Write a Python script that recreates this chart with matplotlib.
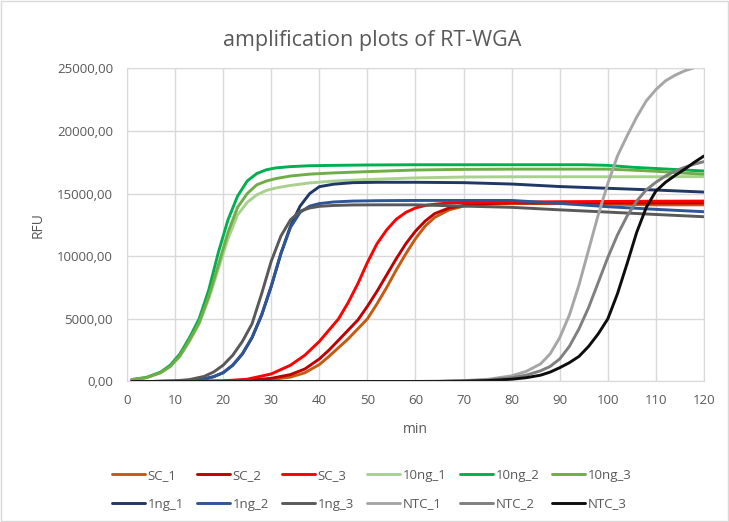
import matplotlib
matplotlib.use("Agg")
import matplotlib.pyplot as plt
from matplotlib.patches import Rectangle
from matplotlib.ticker import FuncFormatter

plt.rcParams['font.family'] = ['Open Sans', 'DejaVu Sans']

# time points (min), denser where the curves rise
t_sc = [1, 10, 20, 25, 30, 34, 37, 40, 42, 44, 46, 48, 50, 52, 54, 56, 58, 60, 62, 64, 67, 70, 75, 80,
        90, 100, 110, 120]
t_10ng = [1, 4, 7, 9, 11, 13, 15, 17, 19, 21, 23, 25, 27, 29, 31, 34, 38, 43, 50, 60, 70, 80, 90, 95,
          100, 105, 110, 115, 120]
t_1ng = [1, 5, 10, 13, 16, 18, 20, 22, 24, 26, 28, 30, 32, 34, 36, 38, 40, 43, 47, 52, 60, 70, 80, 90,
         100, 110, 120]
t_ntc = [1, 20, 40, 60, 65, 70, 75, 80, 83, 86, 88, 90, 92, 94, 96, 98, 100, 102, 104, 106, 108, 110,
         112, 114, 116, 118, 120]

# RFU per series
sc_1 = [0, 0, 10, 60, 150, 350, 700, 1350, 2000, 2700, 3400, 4200, 5000, 6200, 7500, 8900, 10200, 11400,
        12400, 13100, 13700, 14000, 14150, 14200, 14200, 14150, 14100, 14100]
sc_2 = [0, 0, 30, 100, 250, 550, 1000, 1800, 2500, 3300, 4100, 4900, 6000, 7200, 8500, 9800, 11000, 12000,
        12800, 13400, 13850, 14050, 14200, 14250, 14250, 14250, 14250, 14250]
sc_3 = [0, 0, 50, 180, 600, 1300, 2100, 3200, 4100, 5000, 6300, 7800, 9500, 11000, 12100, 12950, 13500,
        13850, 14050, 14150, 14250, 14280, 14300, 14320, 14350, 14370, 14390, 14400]

ng10_1 = [150, 300, 700, 1200, 2000, 3200, 4600, 6600, 9000, 11400, 13300, 14300, 14900, 15250, 15450,
          15650, 15850, 16000, 16120, 16250, 16320, 16340, 16340, 16340, 16340, 16340, 16340, 16350, 16350]
ng10_2 = [150, 320, 750, 1300, 2200, 3500, 5000, 7300, 10300, 12900, 14800, 16000, 16600, 16900, 17050,
          17150, 17220, 17250, 17280, 17300, 17300, 17300, 17300, 17300, 17250, 17100, 17000, 16900, 16800]
ng10_3 = [150, 300, 700, 1200, 2050, 3300, 4700, 6800, 9300, 11900, 13900, 15000, 15700, 16000, 16200,
          16400, 16550, 16650, 16750, 16880, 16930, 16950, 16950, 16950, 16950, 16870, 16780, 16650, 16550]

ng1_1 = [0, 0, 30, 80, 200, 380, 700, 1300, 2200, 3500, 5300, 7600, 10200, 12400, 14000, 15000, 15550,
         15750, 15870, 15900, 15900, 15870, 15760, 15560, 15420, 15280, 15120]
ng1_2 = [0, 0, 30, 80, 200, 380, 700, 1300, 2200, 3500, 5300, 7600, 10200, 12300, 13500, 14000, 14200,
         14330, 14400, 14430, 14450, 14450, 14450, 14220, 13950, 13740, 13550]
ng1_3 = [0, 0, 50, 150, 400, 750, 1300, 2100, 3200, 4600, 7000, 9600, 11600, 12900, 13600, 13850, 13980,
         14050, 14090, 14100, 14100, 14000, 13900, 13700, 13520, 13330, 13150]

ntc_1 = [0, 0, 0, 0, 20, 70, 170, 450, 800, 1400, 2200, 3500, 5300, 7700, 10500, 13300, 15800, 18000,
         19600, 21100, 22400, 23300, 24000, 24450, 24800, 25050, 25300]
ntc_2 = [0, 0, 0, 0, 10, 50, 120, 300, 500, 850, 1200, 1800, 2800, 4200, 5900, 7900, 9900, 11700, 13200,
         14400, 15300, 15900, 16400, 16800, 17100, 17350, 17550]
ntc_3 = [0, 0, 0, 0, 0, 20, 70, 180, 300, 500, 750, 1100, 1500, 2000, 2800, 3800, 5000, 7000, 9400,
         11900, 13900, 15200, 15900, 16450, 16950, 17500, 18000]

series = [
    ('SC_1', t_sc, sc_1, '#c55a11'),
    ('SC_2', t_sc, sc_2, '#c00000'),
    ('SC_3', t_sc, sc_3, '#ff0000'),
    ('10ng_1', t_10ng, ng10_1, '#a9d18e'),
    ('10ng_2', t_10ng, ng10_2, '#00b050'),
    ('10ng_3', t_10ng, ng10_3, '#70ad47'),
    ('1ng_1', t_1ng, ng1_1, '#1f3864'),
    ('1ng_2', t_1ng, ng1_2, '#2f5597'),
    ('1ng_3', t_1ng, ng1_3, '#595959'),
    ('NTC_1', t_ntc, ntc_1, '#a6a6a6'),
    ('NTC_2', t_ntc, ntc_2, '#7f7f7f'),
    ('NTC_3', t_ntc, ntc_3, '#0d0d0d'),
]

txt = '#595959'
grid = '#d9d9d9'

fig = plt.figure(figsize=(7.29, 5.22), dpi=100)
ax = fig.add_axes([0.1742, 0.2692, 0.7915, 0.6000])

for name, tt, vals, col in series:
    ax.plot(tt, vals, color=col, lw=2.1, label=name, solid_capstyle='round', solid_joinstyle='round')

ax.set_xlim(0, 120)
ax.set_ylim(0, 25000)
ax.set_xticks(range(0, 121, 10))
ax.set_yticks(range(0, 25001, 5000))
ax.yaxis.set_major_formatter(FuncFormatter(lambda v, p: ('%.2f' % v).replace('.', ',')))
ax.grid(True, color=grid, lw=1.0)
ax.set_axisbelow(True)
for s in ax.spines.values():
    s.set_color(grid)
ax.tick_params(length=0, labelsize=9.5, labelcolor=txt)
ax.tick_params(axis='y', pad=10)
ax.tick_params(axis='x', pad=9)

ax.set_xlabel('min', fontsize=10, color=txt, labelpad=11)
ax.set_ylabel('RFU', fontsize=10, color=txt, labelpad=8)

fig.text(0.510, 0.923, 'amplification plots of RT-WGA', ha='center', va='center',
         fontsize=15.5, color=txt)

# legend filled row by row like Excel
handles, labels = ax.get_legend_handles_labels()
order = [0, 6, 1, 7, 2, 8, 3, 9, 4, 10, 5, 11]
leg = fig.legend([handles[i] for i in order], [labels[i] for i in order],
                 loc='center', bbox_to_anchor=(0.51, 0.062), ncol=6, frameon=False,
                 fontsize=9.5, handlelength=2.5, handletextpad=0.2, columnspacing=1.0,
                 labelspacing=1.2)
for t in leg.get_texts():
    t.set_color(txt)

fig.patches.append(Rectangle((0.002, 0.002), 0.996, 0.996, transform=fig.transFigure,
                             fill=False, edgecolor=grid, lw=1.0))

fig.savefig('out.png', dpi=100)
